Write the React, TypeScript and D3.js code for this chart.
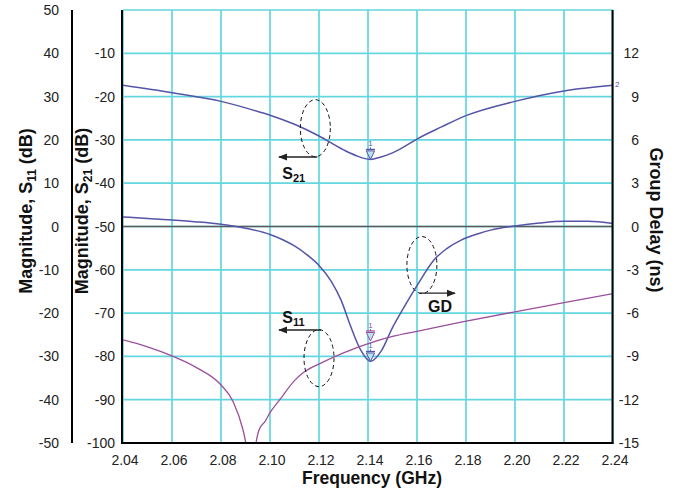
import React from 'react';
import * as d3 from 'd3';

// ---- data ----
const FREQ_TICKS = [2.04, 2.06, 2.08, 2.1, 2.12, 2.14, 2.16, 2.18, 2.2, 2.22, 2.24];
const S21_TICKS = [-10, -20, -30, -40, -50, -60, -70, -80, -90, -100];
const S11_TICKS = [50, 40, 30, 20, 10, 0, -10, -20, -30, -40, -50];
const GD_TICKS = [12, 9, 6, 3, 0, -3, -6, -9, -12, -15];

const S21_FREQ = [2.04, 2.06, 2.08, 2.096, 2.1, 2.11, 2.12, 2.13, 2.135, 2.141, 2.145, 2.15, 2.155, 2.16, 2.17, 2.18, 2.2, 2.22, 2.24];
const S21_DB = [-17.4, -19.1, -21.1, -23.6, -24.3, -26.4, -29.1, -32.3, -33.6, -34.5, -34.0, -33.0, -31.5, -29.8, -27.0, -24.4, -21.1, -18.7, -17.4];

const GD_FREQ = [2.04, 2.05, 2.06, 2.07, 2.08, 2.09, 2.1, 2.105, 2.11, 2.115, 2.12, 2.125, 2.129, 2.133, 2.137, 2.141, 2.1455, 2.15, 2.154, 2.16, 2.167, 2.172, 2.178, 2.185, 2.19, 2.2, 2.21, 2.22, 2.23, 2.24];
const GD_NS = [0.66, 0.56, 0.45, 0.32, 0.15, -0.12, -0.55, -0.9, -1.35, -1.95, -2.7, -3.8, -5.1, -6.95, -8.55, -9.35, -8.6, -7.0, -5.8, -4.1, -2.3, -1.55, -0.94, -0.5, -0.25, 0.03, 0.24, 0.36, 0.36, 0.2];

const S11_FREQ = [2.04, 2.05, 2.06, 2.07, 2.08, 2.085, 2.089, 2.0905, 2.0925, 2.094, 2.0955, 2.098, 2.1, 2.104, 2.11, 2.1135, 2.121, 2.13, 2.141, 2.15, 2.161, 2.178, 2.2, 2.22, 2.24];
const S11_DB = [-26.2, -27.8, -29.9, -32.6, -36.6, -40.5, -47, -51, -58, -51, -47, -45, -43, -40, -35.6, -33.8, -31.5, -29.2, -26.9, -25.4, -24.1, -22.1, -19.7, -17.6, -15.5];

const MARKER_FREQ = 2.141;

// annotations (frequency, S21-axis value)
const ELLIPSES = [
  { f: 2.1185, v: -27.3 },
  { f: 2.162, v: -58.9 },
  { f: 2.12, v: -80.4 },
];
const ARROWS = [
  { f0: 2.1193, f1: 2.1037, v: -33.95 },
  { f0: 2.161, f1: 2.1755, v: -65.4 },
  { f0: 2.1208, f1: 2.1037, v: -73.9 },
];
const LABELS = [
  { f: 2.105, v: -39.0, main: 'S', sub: '21' },
  { f: 2.1645, v: -69.7, main: 'GD', sub: '' },
  { f: 2.105, v: -72.3, main: 'S', sub: '11' },
];

const BLUE = '#5454a8';
const PURPLE = '#9b4f9b';
const GRID = '#63d6df';
const FONT = 'Liberation Sans, Arial, sans-serif';

export default function App() {
  const W = 684, H = 491;
  const x = d3.scaleLinear().domain([2.04, 2.24]).range([123, 613]);
  const yS21 = d3.scaleLinear().domain([0, -100]).range([10, 443]);
  const yS11 = d3.scaleLinear().domain([50, -50]).range([10, 443]);
  const yGD = d3.scaleLinear().domain([15, -15]).range([10, 443]);
  const [x0, x1] = x.range();
  const [y0, y1] = yS21.range();

  const lineOf = (fs: number[], vs: number[], y: any) =>
    d3.line<number>().x((_, i) => x(fs[i])).y((_, i) => y(vs[i])).curve(d3.curveMonotoneX)(fs) || '';

  const gridY = d3.range(0, -101, -10);

  const s21Min = d3.min(S21_DB) as number;
  const gdMin = d3.min(GD_NS) as number;
  const s11AtMarker = S11_DB[S11_FREQ.indexOf(MARKER_FREQ)];

  const marker = (cx: number, tip: number, color: string, key: string) => (
    <g key={key}>
      <text x={cx} y={tip - 13} fontSize={8} textAnchor="middle" fill={color} fontFamily={FONT}>1</text>
      <line x1={cx} x2={cx} y1={tip - 12} y2={tip - 10} stroke={color} strokeWidth={1} />
      <line x1={cx - 4.5} x2={cx + 4.5} y1={tip - 10} y2={tip - 10} stroke={color} strokeWidth={1.2} />
      <path d={`M${cx - 4.2},${tip - 8.5}L${cx + 4.2},${tip - 8.5}L${cx},${tip}Z`} fill="#b9e2f2" stroke={color} strokeWidth={1} />
    </g>
  );

  return (
    <svg width={W} height={H} style={{ position: 'absolute', left: 0, top: 0, background: '#fff' }} fontFamily={FONT}>
      <defs>
        <clipPath id="plot">
          <rect x={x0} y={y0} width={x1 - x0} height={y1 - y0} />
        </clipPath>
        <marker id="ah" viewBox="0 0 10 10" refX="9" refY="5" markerWidth="7" markerHeight="7" orient="auto-start-reverse">
          <path d="M0,1L10,5L0,9Z" fill="#222" />
        </marker>
      </defs>

      {/* grid */}
      {FREQ_TICKS.map((f) => (
        <line key={'gx' + f} x1={x(f)} x2={x(f)} y1={y0} y2={y1} stroke={GRID} strokeWidth={1.7} />
      ))}
      {gridY.map((v) => (
        <line key={'gy' + v} x1={x0} x2={x1} y1={yS21(v)} y2={yS21(v)} stroke={GRID} strokeWidth={1.7} />
      ))}

      {/* zero line */}
      <line x1={x0} x2={x1} y1={yGD(0)} y2={yGD(0)} stroke="#5a5a5a" strokeWidth={1.6} />

      {/* curves */}
      <g clipPath="url(#plot)" fill="none">
        <path d={lineOf(S21_FREQ, S21_DB, yS21)} stroke={BLUE} strokeWidth={1.5} />
        <path d={lineOf(GD_FREQ, GD_NS, yGD)} stroke={BLUE} strokeWidth={1.5} />
        <path d={lineOf(S11_FREQ, S11_DB, yS11)} stroke={PURPLE} strokeWidth={1.3} />
      </g>

      {/* markers */}
      {marker(x(MARKER_FREQ), yS21(s21Min), BLUE, 'm1')}
      {marker(x(MARKER_FREQ), yS11(s11AtMarker) - 2, PURPLE, 'm2')}
      {marker(x(MARKER_FREQ), yGD(gdMin), BLUE, 'm3')}
      <text x={x1 + 2} y={yS21(S21_DB[S21_DB.length - 1]) + 2} fontSize={8} fill={BLUE}>2</text>

      {/* axes */}
      <line x1={x0 - 1} x2={x0 - 1} y1={y0} y2={y1 + 1} stroke="#000" strokeWidth={2} />
      <line x1={x1 - 0.5} x2={x1 - 0.5} y1={y0} y2={y1 + 1} stroke="#000" strokeWidth={2} />
      <line x1={x0 - 2} x2={x1 + 0.5} y1={y1} y2={y1} stroke="#000" strokeWidth={2} />
      <line x1={72} x2={72} y1={yS11(50)} y2={yS11(-50)} stroke="#000" strokeWidth={2} />

      {/* tick labels */}
      {S11_TICKS.map((v) => (
        <text key={'s11' + v} x={59} y={yS11(v)} dy="0.36em" textAnchor="end" fontSize={14} fill="#222">{v}</text>
      ))}
      {S21_TICKS.map((v) => (
        <text key={'s21' + v} x={115} y={yS21(v)} dy="0.36em" textAnchor="end" fontSize={14} fill="#222">{v}</text>
      ))}
      {GD_TICKS.map((v) => (
        <text key={'gd' + v} x={639} y={yGD(v)} dy="0.36em" textAnchor="end" fontSize={14} fill="#222">{v}</text>
      ))}
      {FREQ_TICKS.map((f) => (
        <text key={'fx' + f} x={x(f) + 2} y={465} textAnchor="middle" fontSize={14} fill="#222">{f.toFixed(2)}</text>
      ))}

      {/* titles */}
      <text x={372} y={484} textAnchor="middle" fontSize={17.5} fontWeight="bold" fill="#111">Frequency (GHz)</text>
      <text transform="translate(32,211) rotate(-90)" textAnchor="middle" fontSize={18} fontWeight="bold" fill="#111">
        Magnitude, S<tspan dy={4} fontSize={12}>11</tspan><tspan dy={-4}> (dB)</tspan>
      </text>
      <text transform="translate(88,211) rotate(-90)" textAnchor="middle" fontSize={18} fontWeight="bold" fill="#111">
        Magnitude, S<tspan dy={4} fontSize={12}>21</tspan><tspan dy={-4}> (dB)</tspan>
      </text>
      <text transform="translate(650,220) rotate(90)" textAnchor="middle" fontSize={18} fontWeight="bold" fill="#111">
        Group Delay (ns)
      </text>

      {/* annotations */}
      {ELLIPSES.map((e, i) => (
        <ellipse key={'el' + i} cx={x(e.f)} cy={yS21(e.v)} rx={15} ry={28.5} fill="none" stroke="#111" strokeWidth={1} strokeDasharray="4,3" />
      ))}
      {ARROWS.map((a, i) => (
        <line key={'ar' + i} x1={x(a.f0)} x2={x(a.f1)} y1={yS21(a.v)} y2={yS21(a.v)} stroke="#222" strokeWidth={1.3} markerEnd="url(#ah)" />
      ))}
      {LABELS.map((l, i) => (
        <text key={'lb' + i} x={x(l.f)} y={yS21(l.v)} fontSize={16} fontWeight="bold" fill="#111">
          {l.main}
          {l.sub ? <tspan dy={3} fontSize={11}>{l.sub}</tspan> : null}
        </text>
      ))}
    </svg>
  );
}
